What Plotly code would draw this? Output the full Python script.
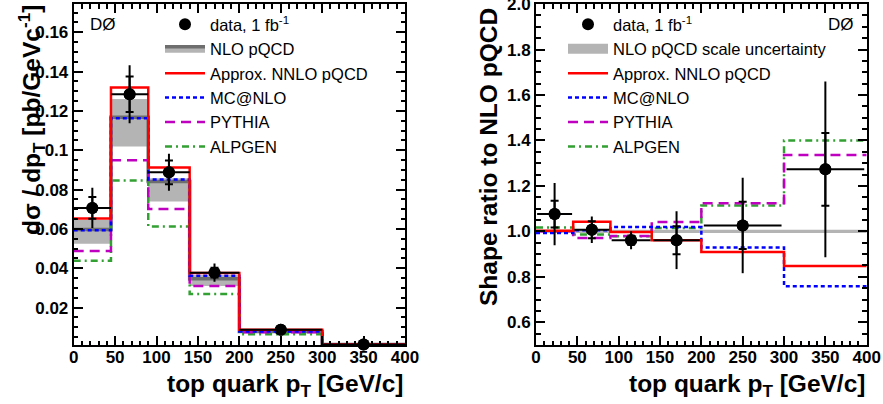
import plotly.graph_objects as go

# ---------------- data ----------------
edges = [0, 45, 90, 140, 200, 300, 400]
centers = [22.5, 67.5, 115, 170, 250, 350]
half_widths = [22.5, 22.5, 25, 30, 50, 50]

# Left panel: dsigma/dpT [pb/GeV]
xs_data = [0.0707, 0.1285, 0.0888, 0.0378, 0.0087, 0.0013]
xs_stat = [0.0055, 0.0090, 0.0060, 0.0025, 0.0006, 0.0002]
xs_total = [0.0102, 0.0148, 0.0094, 0.0047, 0.0012, 0.0004]
xs_nlo = [0.0597, 0.1168, 0.0842, 0.0347, 0.0079, 0.0012]
xs_nlo_low = [0.0525, 0.1020, 0.0740, 0.0310, 0.0072, 0.0010]
xs_nlo_high = [0.0645, 0.1260, 0.0857, 0.0366, 0.0085, 0.0013]
xs_nnlo = [0.0653, 0.1320, 0.0913, 0.0376, 0.0087, 0.0013]
xs_mcatnlo = [0.0594, 0.1163, 0.0852, 0.0362, 0.0079, 0.0011]
xs_pythia = [0.0488, 0.0949, 0.0702, 0.0310, 0.0075, 0.0012]
xs_alpgen = [0.0439, 0.0846, 0.0613, 0.0269, 0.0065, 0.0013]

# Right panel: shape ratio to NLO pQCD
r_data = [1.076, 1.007, 0.961, 0.961, 1.026, 1.273]
r_stat = [0.059, 0.037, 0.020, 0.062, 0.104, 0.160]
r_total = [0.137, 0.058, 0.040, 0.127, 0.210, 0.387]
r_nlo_low = [0.993, 0.993, 0.993, 0.993, 0.993, 0.993]
r_nlo_high = [1.007, 1.007, 1.007, 1.007, 1.007, 1.007]
r_nnlo = [1.003, 1.042, 0.997, 0.961, 0.909, 0.848]
r_mcatnlo = [0.993, 1.005, 1.019, 1.019, 0.929, 0.758]
r_pythia = [1.000, 0.971, 0.980, 1.041, 1.124, 1.336]
r_alpgen = [1.017, 0.986, 0.978, 1.015, 1.114, 1.400]

# ---------------- style ----------------
FONT = "Liberation Sans"
C_RED = "#ff0000"
C_BLUE = "#0000ff"
C_MAG = "#c000c0"
C_GREEN = "#33a033"
C_BAND = "#b4b4b4"
C_NLO = "#6e6e6e"

def step(v):
    return list(v) + [v[-1]]

fig = go.Figure()

def add_panel(xa, ya, legend, data, stat, total, band_lo, band_hi, nlo,
              nnlo, mc, py, alp, band_name, xerr_scale):
    # band
    fig.add_trace(go.Scatter(x=edges, y=step(band_lo), mode="lines", line_shape="hv",
                             line=dict(width=0, color=C_BAND), hoverinfo="skip",
                             showlegend=False, xaxis=xa, yaxis=ya, legend=legend))
    fig.add_trace(go.Scatter(x=edges, y=step(band_hi), mode="lines", line_shape="hv",
                             line=dict(width=0, color=C_BAND), fill="tonexty",
                             fillcolor=C_BAND, showlegend=False,
                             xaxis=xa, yaxis=ya, legend=legend))
    if nlo is not None:
        # central NLO line; its fill lies inside the band (same colour), so it only
        # adds the grey box to the legend key
        fig.add_trace(go.Scatter(x=edges, y=step(nlo), mode="lines", line_shape="hv",
                                 line=dict(width=3.5, color=C_NLO), fill="tonexty",
                                 fillcolor=C_BAND, name="NLO pQCD",
                                 legendrank=2, xaxis=xa, yaxis=ya, legend=legend))
    else:
        # legend key for the band
        fig.add_trace(go.Scatter(x=[None], y=[None], mode="lines",
                                 line=dict(width=14, color=C_BAND), name=band_name,
                                 legendrank=2, xaxis=xa, yaxis=ya, legend=legend))
    fig.add_trace(go.Scatter(x=edges, y=step(alp), mode="lines", line_shape="hv",
                             line=dict(width=2.5, color=C_GREEN, dash="7px,4px,2px,4px"),
                             name="ALPGEN", legendrank=6, xaxis=xa, yaxis=ya, legend=legend))
    fig.add_trace(go.Scatter(x=edges, y=step(py), mode="lines", line_shape="hv",
                             line=dict(width=2.5, color=C_MAG, dash="10px,6px"),
                             name="PYTHIA", legendrank=5, xaxis=xa, yaxis=ya, legend=legend))
    fig.add_trace(go.Scatter(x=edges, y=step(mc), mode="lines", line_shape="hv",
                             line=dict(width=2.5, color=C_BLUE, dash="4px,3px"),
                             name="MC@NLO", legendrank=4, xaxis=xa, yaxis=ya, legend=legend))
    fig.add_trace(go.Scatter(x=edges, y=step(nnlo), mode="lines", line_shape="hv",
                             line=dict(width=2.5, color=C_RED),
                             name="Approx. NNLO pQCD", legendrank=3,
                             xaxis=xa, yaxis=ya, legend=legend))
    # data: total errors
    fig.add_trace(go.Scatter(x=centers, y=data, mode="markers",
                             marker=dict(size=12, color="black"),
                             error_y=dict(type="data", array=total, width=0,
                                          thickness=2, color="black"),
                             error_x=dict(type="data", array=[h * xerr_scale for h in half_widths],
                                          width=0, thickness=2, color="black"),
                             name="data, 1 fb<sup>-1</sup>", legendrank=1,
                             cliponaxis=False, xaxis=xa, yaxis=ya, legend=legend))
    # data: stat errors with small crossbars
    fig.add_trace(go.Scatter(x=centers, y=data, mode="markers",
                             marker=dict(size=12, color="black"),
                             error_y=dict(type="data", array=stat, width=4,
                                          thickness=2, color="black"),
                             showlegend=False, cliponaxis=False,
                             xaxis=xa, yaxis=ya, legend=legend))

add_panel("x", "y", "legend", xs_data, xs_stat, xs_total, xs_nlo_low, xs_nlo_high,
          xs_nlo, xs_nnlo, xs_mcatnlo, xs_pythia, xs_alpgen, "NLO pQCD", 1.0)
add_panel("x2", "y2", "legend2", r_data, r_stat, r_total, r_nlo_low, r_nlo_high,
          None, r_nnlo, r_mcatnlo, r_pythia, r_alpgen, "NLO pQCD scale uncertainty", 0.94)

W, H = 883, 404
def px(xp):
    return xp / W
def py_(yp):
    return 1 - yp / H

tickfont = dict(family=FONT, size=17, color="black", weight="bold")
common_axis = dict(showline=True, linewidth=2, linecolor="black", mirror="allticks",
                   ticks="inside", ticklen=9, tickwidth=1.5, tickcolor="black",
                   showgrid=False, zeroline=False, tickfont=tickfont,
                   ticklabeloverflow="allow", automargin=False)

xaxis_common = dict(common_axis, range=[0, 400], tickmode="linear", tick0=0, dtick=50,
                    ticklabelstandoff=-4,
                    minor=dict(ticks="inside", ticklen=4.5, tickwidth=1.5,
                               tickcolor="black", dtick=10, showgrid=False))

legend_common = dict(xanchor="left", yanchor="top", bgcolor="rgba(0,0,0,0)",
                     font=dict(family=FONT, size=16.5, color="black"),
                     itemwidth=40, tracegroupgap=0, traceorder="normal")

fig.update_layout(
    width=W, height=H,
    margin=dict(l=0, r=0, t=0, b=0, autoexpand=False),
    paper_bgcolor="white", plot_bgcolor="white",
    font=dict(family=FONT, color="black"),
    xaxis=dict(xaxis_common, domain=[px(73.7), px(405)], anchor="y"),
    yaxis=dict(common_axis, domain=[py_(345), py_(4)], anchor="x",
               range=[0.001, 0.1744], tickmode="linear", tick0=0, dtick=0.02,
               tickformat=".2~f",
               minor=dict(ticks="inside", ticklen=4.5, tickwidth=1.5,
                          tickcolor="black", dtick=0.005, showgrid=False)),
    xaxis2=dict(xaxis_common, domain=[px(536), px(866.7)], anchor="y2"),
    yaxis2=dict(common_axis, domain=[py_(345), py_(4)], anchor="x2",
                range=[0.5, 2.0005], tickmode="linear", tick0=0, dtick=0.2,
                tickformat=".1f",
                minor=dict(ticks="inside", ticklen=4.5, tickwidth=1.5,
                           tickcolor="black", dtick=0.05, showgrid=False)),
    legend=dict(legend_common, x=px(160), y=py_(7)),
    legend2=dict(legend_common, x=px(563), y=py_(7)),
)

title_font = dict(family=FONT, size=24.5, color="black", weight="bold")
ann = [
    dict(text="top quark p<sub>T</sub> [GeV/c]", x=px(405), y=py_(385),
         xanchor="right", yanchor="middle", font=title_font),
    dict(text="top quark p<sub>T</sub> [GeV/c]", x=px(866.7), y=py_(385),
         xanchor="right", yanchor="middle", font=title_font),
    dict(text="dσ / dp<sub>T</sub> [pb/GeVc<sup>-1</sup>]", x=px(31), y=py_(120),
         xanchor="center", yanchor="middle", textangle=-90, font=title_font),
    dict(text="Shape ratio to NLO pQCD", x=px(488), y=py_(157),
         xanchor="center", yanchor="middle", textangle=-90, font=title_font),
    dict(text="DØ", x=px(88), y=py_(24), xanchor="left", yanchor="middle",
         font=dict(family=FONT, size=17, color="black")),
    dict(text="DØ", x=px(856), y=py_(24), xanchor="right", yanchor="middle",
         font=dict(family=FONT, size=17, color="black")),
]
for a in ann:
    a.update(xref="paper", yref="paper", showarrow=False)
fig.update_layout(annotations=ann)

fig.write_html("out.html", config={"displayModeBar": False},
               post_script="document.body.style.margin='0';document.body.style.padding='0';")
